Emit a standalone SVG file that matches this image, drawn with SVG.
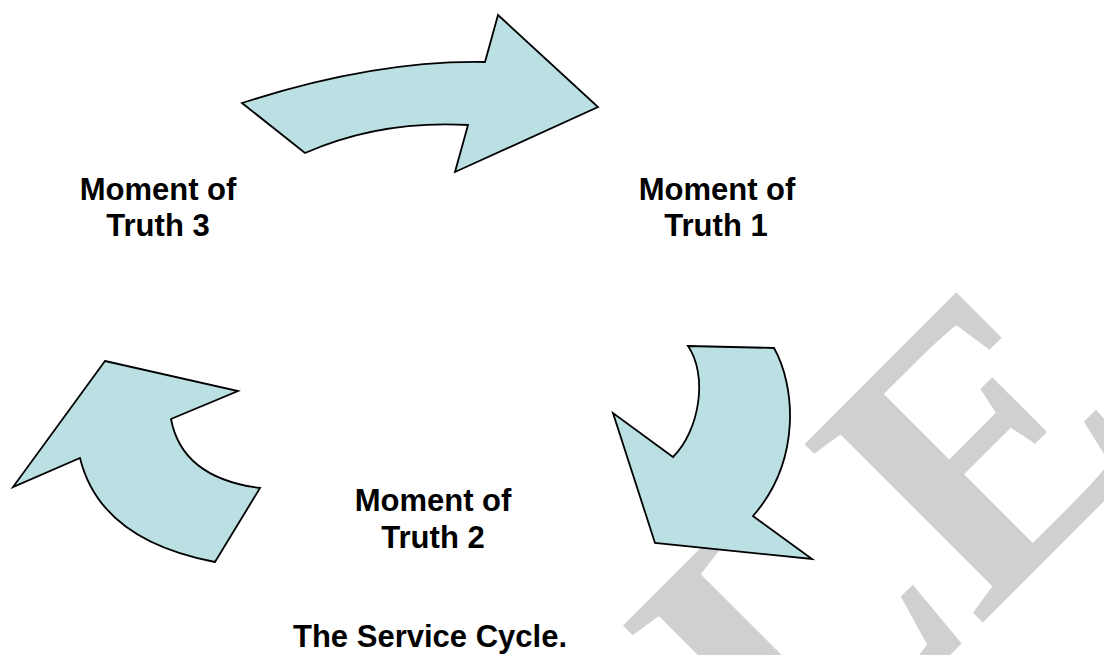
<svg xmlns="http://www.w3.org/2000/svg" width="1104" height="655" viewBox="0 0 1104 655">
  <style>
    .arrow { fill: #bbe0e3; stroke: #000; stroke-width: 1.8; stroke-linejoin: miter; }
    .label { font-family: "Liberation Sans", Arial, sans-serif; font-weight: bold; font-size: 31px; fill: #000; text-anchor: middle; }
    .mark { font-family: "Liberation Serif", "Times New Roman", serif; font-weight: bold; font-size: 385px; fill: #d0d0d0; text-anchor: end; }
  </style>
  <rect width="1104" height="655" fill="#fff"/>

  <!-- background watermark, rotated 45 degrees -->
  <g id="watermark" transform="rotate(-45)">
    <text class="mark" x="505" y="1135">SAMPLE</text>
  </g>

  <!-- curved arrows of the cycle -->
  <g id="connectors">
    <path id="arrow-top" class="arrow" d="M242,103 Q375,60 485,62 L498,15 L598,107 L455,172 L468,125 Q380,120 305,153 Z"/>
    <path id="arrow-right" class="arrow" d="M688,346 L774,348 C795,385 802,460 753,516 L812,559 L655,543 L613,413 L673,457 C700,430 708,375 688,346 Z"/>
    <path id="arrow-left" class="arrow" d="M105,361 L238,391 L171,419 Q182,478 260,488 L215,562 Q100,540 80,458 L13,487 Z"/>
  </g>

  <g id="moment-1">
    <text class="label" x="717" y="200">Moment of</text>
    <text class="label" x="716" y="236">Truth 1</text>
  </g>
  <g id="moment-2">
    <text class="label" x="433" y="511">Moment of</text>
    <text class="label" x="433" y="548">Truth 2</text>
  </g>
  <g id="moment-3">
    <text class="label" x="158" y="200">Moment of</text>
    <text class="label" x="158" y="236">Truth 3</text>
  </g>
  <g id="title">
    <text class="label" x="430" y="647">The Service Cycle.</text>
  </g>
</svg>
